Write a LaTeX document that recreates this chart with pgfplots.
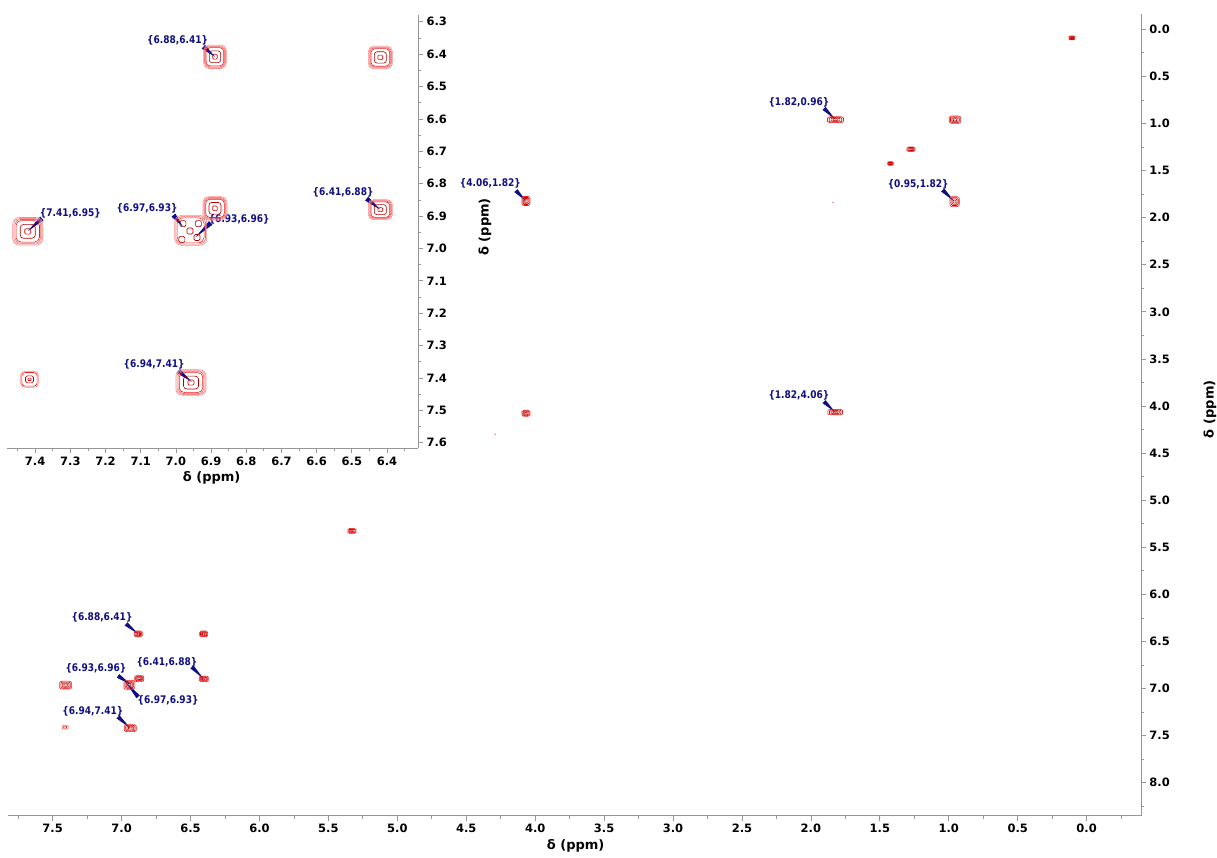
\documentclass[border=0pt]{standalone}
\usepackage{fontspec}
\setmainfont{DejaVu Sans}
\newfontfamily\annfont[FakeStretch=0.86]{DejaVu Sans}
\usepackage{pgfplots}
\pgfplotsset{compat=1.18}
\usetikzlibrary{calc}
\definecolor{navy}{RGB}{15,15,130}
\definecolor{axgray}{RGB}{150,150,150}
\definecolor{cA}{RGB}{246,140,140}
\definecolor{cB}{RGB}{242,95,95}
\definecolor{cC}{RGB}{236,30,30}
\definecolor{cD}{RGB}{215,0,0}
\definecolor{cE}{RGB}{175,0,0}

\newdimen\rsqS \newdimen\rsqR \newdimen\rsqA
\pgfdeclareplotmark{rsq}{%
  \rsqS=\pgfplotmarksize \rsqR=0.45\pgfplotmarksize
  \rsqA=\rsqS \advance\rsqA by -\rsqR
  \pgfpathmoveto{\pgfqpoint{-\rsqA}{-\rsqS}}%
  \pgfpathlineto{\pgfqpoint{\rsqA}{-\rsqS}}%
  \pgfpatharc{-90}{0}{\the\rsqR}%
  \pgfpathlineto{\pgfqpoint{\rsqS}{\rsqA}}%
  \pgfpatharc{0}{90}{\the\rsqR}%
  \pgfpathlineto{\pgfqpoint{-\rsqA}{\rsqS}}%
  \pgfpatharc{90}{180}{\the\rsqR}%
  \pgfpathlineto{\pgfqpoint{-\rsqS}{-\rsqA}}%
  \pgfpatharc{180}{270}{\the\rsqR}%
  \pgfpathclose
  \pgfusepathqstroke}

% one contour ring: x y halfwidth halfheight colour
\newcommand{\ring}[5]{\addplot[color=#5, only marks, mark=rsq, mark size={(#4)*1bp},
  mark options={xscale={(#3)/(#4)}, line width=0.6bp}] coordinates {(#1,#2)};}
% inset peak
\newcommand{\ipk}[4]{%
  \ring{#1}{#2}{#3}{#4}{cA}
  \ring{#1}{#2}{0.93*#3}{0.93*#4}{cA}
  \ring{#1}{#2}{0.86*#3}{0.86*#4}{cB}
  \ring{#1}{#2}{0.78*#3}{0.78*#4}{cC}
  \ring{#1}{#2}{0.5*#3}{0.5*#4}{cE}
  \ring{#1}{#2}{0.2*#3}{0.2*#4}{cD}}
% main peak
\newcommand{\mpk}[4]{%
  \ring{#1}{#2}{#3}{#4}{cC}
  \ring{#1}{#2}{0.78*#3}{0.78*#4}{cD}
  \ring{#1}{#2}{0.55*#3}{0.55*#4}{cD}
  \ring{#1}{#2}{0.3*#3}{0.3*#4}{cE}}
% annotation: text x, text y, text, wedge start x, y, tip x, y, half width
\newcommand{\ann}[8]{%
  \node[font=\annfont\bfseries\fontsize{10.5bp}{12bp}\selectfont, text=navy, inner sep=0pt] at (axis cs:#1,#2) {#3};
  \fill[navy] ($(axis cs:#4,#5)!#8!90:(axis cs:#6,#7)$) -- ($(axis cs:#4,#5)!#8!-90:(axis cs:#6,#7)$) -- (axis cs:#6,#7) -- cycle;}

\pgfplotsset{nmrstyle/.style={
  scale only axis, x dir=reverse, y dir=reverse,
  axis x line=bottom, axis y line=right,
  axis line style={-, draw=axgray, line width=0.9bp},
  tick align=outside, major tick length=5bp, minor tick length=3bp,
  every tick/.style={axgray, line width=0.8bp},
  every minor tick/.style={axgray, line width=0.8bp},
  ticklabel style={font=\bfseries\fontsize{11.5bp}{13bp}\selectfont, text=black},
  /pgf/number format/assume math mode=true,
  x tick label style={/pgf/number format/.cd, fixed, fixed zerofill, precision=1},
  y tick label style={/pgf/number format/.cd, fixed, fixed zerofill, precision=1},
  label style={font=\bfseries\fontsize{13bp}{15bp}\selectfont},
  clip=false}}

\begin{document}
\begin{tikzpicture}
% ---------------- main spectrum ----------------
\begin{axis}[nmrstyle,
  at={(8bp,-815.7bp)}, anchor=south west,
  width=1133bp, height=801.7bp,
  xmin=-0.394, xmax=7.824, ymin=-0.162, ymax=8.35,
  xtick={0,0.5,...,7.5}, minor xtick={-0.25,0.25,...,7.75},
  ytick={0,0.5,...,8}, minor ytick={0.25,0.75,...,8.25},
  xlabel={δ (ppm)}, ylabel={δ (ppm)},
  xlabel style={at={(axis description cs:0.501,-0.0378)}, anchor=center},
  ylabel style={at={(axis description cs:1.0609,0.507)}, anchor=center},
]
\mpk{6.879}{6.42}{4}{3}
\mpk{6.405}{6.42}{4}{3}
\mpk{6.404}{6.897}{4.5}{2.7}
\mpk{6.872}{6.894}{4.5}{3}
\mpk{6.944}{6.96}{5.5}{4.5}
\mpk{7.406}{6.964}{6}{4}
\mpk{6.937}{7.42}{6}{3.5}
\ring{7.41}{7.41}{3}{2}{cB}
\ring{7.41}{7.41}{1.5}{1}{cD}
\mpk{5.329}{5.326}{4}{2.5}
\mpk{4.067}{1.823}{4}{4.5}
\mpk{4.067}{4.077}{4}{3}
\mpk{1.822}{0.96}{8}{3}
\mpk{0.955}{0.96}{5.7}{3.7}
\mpk{1.274}{1.274}{4}{2.3}
\mpk{1.423}{1.425}{2.8}{1.8}
\mpk{0.958}{1.83}{4.7}{5}
\mpk{1.824}{4.065}{7.3}{2.8}
\mpk{0.107}{0.092}{3}{2}
\addplot[cA, only marks, mark=*, mark size=0.6bp] coordinates {(1.84,1.84) (4.29,4.30)};
\ann{7.142}{6.239}{\{6.88,6.41\}}{6.968}{6.313}{6.879}{6.42}{2.2bp}
\ann{6.671}{6.717}{\{6.41,6.88\}}{6.49}{6.77}{6.404}{6.897}{2.2bp}
\ann{7.186}{6.79}{\{6.93,6.96\}}{7.026}{6.865}{6.93}{6.96}{2.2bp}
\ann{6.663}{7.13}{\{6.97,6.93\}}{6.88}{7.088}{6.97}{6.93}{2.2bp}
\ann{7.208}{7.237}{\{6.94,7.41\}}{7.026}{7.30}{6.937}{7.42}{2.2bp}
\ann{4.325}{1.635}{\{4.06,1.82\}}{4.14}{1.713}{4.067}{1.823}{2.2bp}
\ann{2.087}{0.775}{\{1.82,0.96\}}{1.905}{0.839}{1.822}{0.96}{2.2bp}
\ann{1.222}{1.645}{\{0.95,1.82\}}{1.045}{1.706}{0.958}{1.83}{2.2bp}
\ann{2.087}{3.882}{\{1.82,4.06\}}{1.905}{3.953}{1.824}{4.065}{2.2bp}
\end{axis}
% ---------------- inset ----------------
\begin{axis}[nmrstyle,
  at={(7bp,-448.3bp)}, anchor=south west,
  width=411bp, height=433.3bp,
  xmin=6.312, xmax=7.48, ymin=6.279, ymax=7.617,
  xtick={6.4,6.5,6.6,6.7,6.8,6.9,7.0,7.1,7.2,7.3,7.4},
  minor xtick={6.35,6.45,6.55,6.65,6.75,6.85,6.95,7.05,7.15,7.25,7.35,7.45},
  ytick={6.3,6.4,6.5,6.6,6.7,6.8,6.9,7.0,7.1,7.2,7.3,7.4,7.5,7.6},
  minor ytick={6.35,6.45,6.55,6.65,6.75,6.85,6.95,7.05,7.15,7.25,7.35,7.45,7.55},
  xlabel={δ (ppm)}, ylabel={δ (ppm)},
  xlabel style={at={(axis description cs:0.498,-0.0692)}, anchor=center},
  ylabel style={at={(axis description cs:1.163,0.511)}, anchor=center},
]
\ipk{6.889}{6.408}{11.3}{11.7}
\ipk{6.419}{6.41}{12}{11.3}
\ipk{6.419}{6.88}{12}{10}
\ipk{6.889}{6.876}{12}{11.7}
\ipk{7.421}{6.947}{15}{13.8}
\ipk{6.957}{7.414}{15}{12.8}
% overlapping cluster
\ring{6.958}{6.944}{16}{15}{cA}
\ring{6.958}{6.944}{14.8}{13.8}{cB}
\ring{6.958}{6.944}{13.5}{12.5}{cC}
\ring{6.98}{6.923}{3}{3}{cE}
\ring{6.96}{6.946}{3}{3}{cE}
\ring{6.936}{6.923}{3}{3}{cE}
\ring{6.94}{6.966}{3}{3}{cE}
\ring{6.983}{6.972}{3}{3}{cE}
% weak peak
\ring{7.416}{7.404}{8.8}{8}{cA}
\ring{7.416}{7.404}{7.6}{6.8}{cC}
\ring{7.416}{7.404}{4}{3.5}{cE}
\ring{7.416}{7.404}{1.5}{1.2}{cD}
\ann{6.995}{6.357}{\{6.88,6.41\}}{6.922}{6.377}{6.889}{6.408}{2.5bp}
\ann{6.525}{6.827}{\{6.41,6.88\}}{6.458}{6.846}{6.419}{6.88}{2.5bp}
\ann{7.30}{6.892}{\{7.41,6.95\}}{7.381}{6.907}{7.421}{6.947}{2.5bp}
\ann{7.082}{6.876}{\{6.97,6.93\}}{7.007}{6.897}{6.98}{6.933}{2.5bp}
\ann{6.82}{6.91}{\{6.93,6.96\}}{6.901}{6.921}{6.945}{6.966}{2.5bp}
\ann{7.062}{7.357}{\{6.94,7.41\}}{6.993}{7.378}{6.955}{7.412}{2.5bp}
\end{axis}
\pgfresetboundingbox
\path[use as bounding box] (0,0) rectangle (1217bp,-858bp);
\end{tikzpicture}
\end{document}
